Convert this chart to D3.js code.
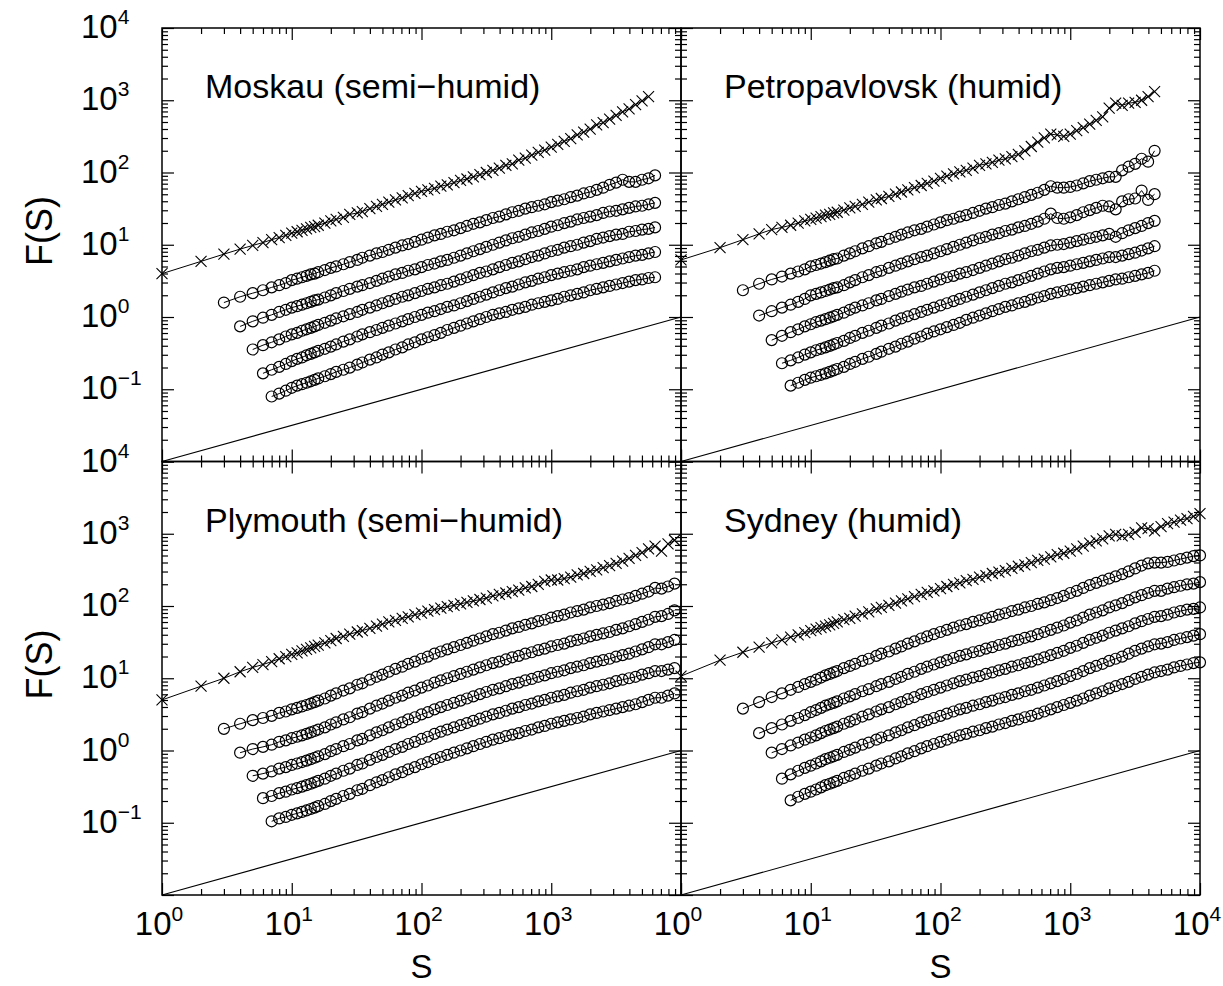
<!DOCTYPE html>
<html>
<head>
<meta charset="utf-8">
<script src="https://cdn.jsdelivr.net/npm/d3@7/dist/d3.min.js"></script>
<style>
  body { margin: 0; background: #fff; }
  text { font-family: 'Liberation Sans', Arial, Helvetica, sans-serif; fill: #000; }
</style>
</head>
<body>
<svg id="chart" width="1223" height="986"></svg>
<script>
// window sizes S shared by every series (a series starts at SERIES_START[i] in this list)
const S_GRID = [1,2,3,4,5,6,7,8,9,10,11,12,13,14,15,16,18,20,22,25,28,32,35,40,45,50,56,63,71,79,89,
  100,112,126,141,158,178,200,224,251,282,316,355,398,447,501,562,631,708,794,891,
  1000,1122,1259,1413,1585,1778,1995,2239,2512,2818,3162,3548,3981,4467,5012,5623,6310,7079,7943,8913,10000]
// crosses start at S=1, the five circle curves at S=3,4,5,6,7
const SERIES_START = [0, 2, 3, 4, 5, 6]

// log10 F(S)
const moskauCross = [0.60,0.77,0.87,0.94,0.99,1.03,1.07,1.10,1.13,1.16,1.18,1.20,1.22,1.24,1.25,1.27,1.30,1.33,1.35,1.38,
  1.42,1.44,1.46,1.50,1.53,1.56,1.59,1.62,1.65,1.68,1.71,1.74,1.76,1.78,1.81,1.83,1.86,1.89,1.91,1.94,
  1.97,2.00,2.03,2.06,2.10,2.12,2.17,2.20,2.24,2.28,2.31,2.35,2.39,2.43,2.47,2.52,2.56,2.60,2.66,2.69,
  2.74,2.79,2.84,2.88,2.94,2.99,3.05]
const moskauC1 = [0.20,0.28,0.33,0.37,0.41,0.44,0.47,0.51,0.53,0.55,0.57,0.59,0.60,0.62,0.65,0.68,0.70,0.73,
  0.76,0.79,0.82,0.85,0.88,0.90,0.93,0.96,0.99,1.01,1.04,1.07,1.10,1.13,1.15,1.18,1.20,1.23,1.26,1.29,
  1.31,1.34,1.37,1.39,1.42,1.45,1.47,1.50,1.52,1.54,1.56,1.59,1.61,1.63,1.66,1.68,1.71,1.73,1.76,1.79,
  1.83,1.86,1.90,1.87,1.87,1.90,1.92,1.96]
const moskauC2 = [-0.13,-0.06,-0.01,0.03,0.07,0.10,0.13,0.15,0.17,0.19,0.21,0.23,0.24,0.27,0.30,0.33,0.36,
  0.39,0.42,0.44,0.47,0.50,0.53,0.56,0.59,0.61,0.64,0.66,0.69,0.72,0.74,0.77,0.79,0.82,0.85,0.88,0.91,
  0.94,0.97,1.00,1.03,1.06,1.09,1.11,1.14,1.17,1.19,1.22,1.25,1.27,1.30,1.32,1.35,1.37,1.39,1.41,1.44,
  1.46,1.47,1.49,1.51,1.53,1.54,1.56,1.58]
const moskauC3 = [-0.45,-0.39,-0.35,-0.31,-0.27,-0.24,-0.22,-0.19,-0.17,-0.15,-0.13,-0.11,-0.08,-0.05,-0.02,0.01,
  0.04,0.07,0.10,0.13,0.16,0.19,0.22,0.25,0.28,0.30,0.33,0.36,0.39,0.41,0.44,0.46,0.49,0.52,0.55,0.58,
  0.61,0.63,0.66,0.69,0.72,0.75,0.77,0.80,0.83,0.85,0.88,0.91,0.93,0.96,0.98,1.00,1.03,1.05,1.08,1.10,
  1.12,1.14,1.15,1.18,1.19,1.21,1.22,1.24]
const moskauC4 = [-0.78,-0.73,-0.69,-0.65,-0.61,-0.58,-0.56,-0.53,-0.51,-0.49,-0.47,-0.44,-0.41,-0.38,-0.34,
  -0.31,-0.27,-0.24,-0.21,-0.18,-0.15,-0.12,-0.09,-0.06,-0.03,0.00,0.03,0.06,0.08,0.11,0.14,0.16,0.19,0.22,0.25,
  0.28,0.31,0.34,0.37,0.40,0.42,0.45,0.48,0.50,0.53,0.55,0.58,0.60,0.62,0.64,0.66,0.69,0.71,0.73,0.75,
  0.77,0.79,0.81,0.83,0.85,0.86,0.88,0.90]
const moskauC5 = [-1.10,-1.06,-1.02,-0.98,-0.95,-0.93,-0.91,-0.89,-0.87,-0.85,-0.82,-0.79,-0.76,-0.73,
  -0.70,-0.66,-0.63,-0.59,-0.56,-0.52,-0.49,-0.45,-0.42,-0.38,-0.35,-0.31,-0.28,-0.25,-0.22,-0.18,-0.15,-0.12,-0.09,-0.06,
  -0.03,0.00,0.03,0.05,0.07,0.10,0.12,0.14,0.17,0.19,0.21,0.23,0.25,0.28,0.30,0.32,0.34,0.37,0.39,0.41,
  0.43,0.45,0.47,0.49,0.51,0.52,0.54,0.55]

const petroCross = [0.79,0.96,1.07,1.15,1.21,1.24,1.27,1.30,1.33,1.35,1.37,1.39,1.41,1.42,1.44,1.45,1.48,1.51,1.53,1.56,
  1.59,1.62,1.64,1.67,1.70,1.73,1.76,1.79,1.82,1.85,1.88,1.92,1.95,1.98,2.01,2.03,2.06,2.10,2.12,2.14,
  2.17,2.19,2.22,2.25,2.30,2.36,2.42,2.48,2.53,2.52,2.50,2.53,2.58,2.62,2.67,2.72,2.77,2.89,2.96,2.93,
  2.96,2.97,3.00,3.05,3.12]
const petroC1 = [0.37,0.46,0.52,0.56,0.60,0.63,0.66,0.70,0.72,0.74,0.76,0.78,0.80,0.81,0.85,0.88,0.91,0.95,
  0.98,1.02,1.04,1.08,1.11,1.14,1.17,1.20,1.22,1.25,1.28,1.31,1.34,1.36,1.39,1.41,1.44,1.47,1.50,1.52,
  1.55,1.57,1.60,1.63,1.66,1.69,1.72,1.76,1.81,1.79,1.79,1.80,1.82,1.85,1.88,1.90,1.92,1.94,1.94,2.03,
  2.08,2.12,2.19,2.15,2.30]
const petroC2 = [0.02,0.08,0.13,0.17,0.21,0.25,0.30,0.32,0.34,0.36,0.38,0.40,0.41,0.44,0.48,0.51,0.55,
  0.58,0.62,0.64,0.68,0.71,0.74,0.77,0.80,0.83,0.85,0.88,0.91,0.94,0.97,1.00,1.03,1.06,1.09,1.11,1.14,
  1.16,1.19,1.21,1.24,1.26,1.29,1.32,1.36,1.43,1.37,1.36,1.38,1.41,1.45,1.48,1.51,1.54,1.53,1.49,1.60,
  1.63,1.64,1.75,1.62,1.70]
const petroC3 = [-0.32,-0.26,-0.21,-0.17,-0.13,-0.10,-0.07,-0.05,-0.03,-0.01,0.01,0.03,0.06,0.10,0.13,0.16,
  0.19,0.23,0.25,0.29,0.32,0.35,0.38,0.41,0.43,0.46,0.49,0.52,0.55,0.57,0.60,0.62,0.65,0.68,0.71,0.74,
  0.77,0.80,0.82,0.85,0.88,0.91,0.93,0.96,0.99,1.00,1.01,1.03,1.05,1.07,1.09,1.11,1.13,1.15,1.11,1.16,
  1.20,1.23,1.26,1.30,1.33]
const petroC4 = [-0.64,-0.60,-0.56,-0.52,-0.49,-0.46,-0.44,-0.42,-0.40,-0.38,-0.36,-0.33,-0.29,-0.26,-0.22,
  -0.19,-0.15,-0.12,-0.09,-0.05,-0.02,0.01,0.04,0.07,0.10,0.13,0.16,0.19,0.22,0.25,0.28,0.31,0.34,0.37,0.40,
  0.43,0.46,0.48,0.51,0.54,0.57,0.60,0.63,0.66,0.68,0.69,0.71,0.73,0.75,0.77,0.79,0.81,0.83,0.83,0.85,
  0.87,0.89,0.92,0.95,0.98]
const petroC5 = [-0.95,-0.91,-0.87,-0.84,-0.82,-0.80,-0.78,-0.76,-0.74,-0.72,-0.69,-0.65,-0.62,-0.58,
  -0.55,-0.51,-0.48,-0.44,-0.41,-0.37,-0.34,-0.30,-0.27,-0.23,-0.20,-0.17,-0.14,-0.11,-0.08,-0.04,-0.01,0.02,0.05,0.08,
  0.11,0.14,0.16,0.19,0.21,0.24,0.27,0.29,0.32,0.34,0.36,0.38,0.40,0.42,0.44,0.46,0.48,0.50,0.52,0.53,
  0.55,0.57,0.59,0.61,0.64]

const plyCross = [0.70,0.89,1.00,1.09,1.15,1.19,1.23,1.27,1.30,1.33,1.35,1.38,1.40,1.42,1.44,1.46,1.49,1.52,1.55,1.58,
  1.61,1.64,1.66,1.69,1.72,1.75,1.78,1.80,1.83,1.85,1.88,1.90,1.93,1.95,1.97,1.99,2.01,2.03,2.05,2.07,
  2.09,2.11,2.14,2.16,2.18,2.20,2.22,2.25,2.27,2.30,2.34,2.36,2.36,2.38,2.40,2.43,2.45,2.48,2.50,2.53,
  2.56,2.59,2.62,2.66,2.70,2.74,2.79,2.83,2.76,2.86,2.91]
const plyC1 = [0.30,0.37,0.42,0.45,0.48,0.52,0.54,0.57,0.59,0.61,0.63,0.65,0.67,0.69,0.72,0.76,0.79,0.83,
  0.86,0.91,0.93,0.98,1.02,1.05,1.09,1.13,1.16,1.20,1.23,1.27,1.30,1.34,1.37,1.40,1.43,1.46,1.49,1.52,
  1.55,1.58,1.61,1.63,1.66,1.69,1.71,1.74,1.76,1.79,1.81,1.84,1.86,1.88,1.91,1.93,1.95,1.98,2.00,2.02,
  2.04,2.07,2.09,2.11,2.14,2.17,2.20,2.25,2.24,2.27,2.31]
const plyC2 = [-0.03,0.02,0.05,0.08,0.12,0.14,0.17,0.19,0.21,0.23,0.25,0.27,0.29,0.32,0.36,0.39,0.43,
  0.46,0.51,0.53,0.58,0.62,0.65,0.69,0.73,0.76,0.80,0.83,0.87,0.90,0.94,0.97,1.00,1.03,1.06,1.09,1.12,
  1.15,1.18,1.21,1.23,1.26,1.29,1.31,1.34,1.36,1.39,1.41,1.44,1.46,1.48,1.51,1.53,1.55,1.58,1.60,1.62,
  1.64,1.67,1.69,1.72,1.75,1.78,1.81,1.85,1.86,1.89,1.94]
const plyC3 = [-0.35,-0.32,-0.29,-0.25,-0.23,-0.20,-0.18,-0.16,-0.14,-0.12,-0.10,-0.08,-0.05,-0.01,0.02,0.06,
  0.09,0.14,0.16,0.21,0.25,0.28,0.32,0.36,0.39,0.43,0.46,0.50,0.53,0.57,0.60,0.63,0.66,0.69,0.72,0.75,
  0.78,0.81,0.84,0.86,0.89,0.92,0.94,0.97,0.99,1.02,1.04,1.07,1.09,1.11,1.14,1.16,1.18,1.21,1.23,1.25,
  1.27,1.30,1.32,1.34,1.37,1.40,1.43,1.47,1.47,1.50,1.53]
const plyC4 = [-0.66,-0.63,-0.59,-0.57,-0.54,-0.52,-0.50,-0.48,-0.46,-0.44,-0.42,-0.39,-0.35,-0.32,-0.28,
  -0.25,-0.20,-0.18,-0.13,-0.09,-0.06,-0.02,0.02,0.05,0.09,0.12,0.16,0.19,0.23,0.26,0.29,0.32,0.35,0.38,0.41,
  0.44,0.47,0.50,0.52,0.55,0.58,0.60,0.63,0.65,0.68,0.70,0.73,0.75,0.77,0.80,0.82,0.84,0.87,0.89,0.91,
  0.93,0.96,0.98,1.00,1.02,1.05,1.07,1.10,1.10,1.12,1.14]
const plyC5 = [-0.98,-0.94,-0.92,-0.89,-0.87,-0.85,-0.83,-0.81,-0.79,-0.77,-0.74,-0.70,-0.67,-0.63,
  -0.60,-0.55,-0.53,-0.48,-0.44,-0.41,-0.37,-0.33,-0.30,-0.26,-0.23,-0.19,-0.16,-0.12,-0.09,-0.06,-0.03,0.00,0.03,0.06,
  0.09,0.12,0.15,0.17,0.20,0.22,0.24,0.27,0.29,0.32,0.34,0.37,0.39,0.41,0.43,0.45,0.47,0.50,0.52,0.54,
  0.56,0.58,0.60,0.62,0.64,0.67,0.70,0.73,0.73,0.76,0.79]

const sydCross = [1.03,1.25,1.36,1.43,1.49,1.53,1.57,1.60,1.63,1.66,1.68,1.70,1.72,1.74,1.76,1.78,1.81,1.83,1.86,1.89,
  1.92,1.96,1.98,2.01,2.04,2.07,2.10,2.13,2.16,2.19,2.21,2.24,2.27,2.30,2.32,2.35,2.37,2.40,2.42,2.45,
  2.47,2.49,2.52,2.55,2.57,2.60,2.63,2.65,2.68,2.71,2.73,2.76,2.79,2.83,2.87,2.90,2.93,2.97,2.99,2.97,
  2.99,3.02,3.08,3.07,3.04,3.10,3.14,3.16,3.19,3.21,3.24,3.28]
const sydC1 = [0.58,0.67,0.74,0.79,0.84,0.88,0.92,0.95,0.98,1.01,1.04,1.06,1.08,1.10,1.14,1.17,1.20,1.24,
  1.27,1.31,1.34,1.37,1.41,1.44,1.48,1.51,1.55,1.58,1.61,1.64,1.67,1.70,1.73,1.75,1.78,1.80,1.83,1.85,
  1.88,1.90,1.93,1.95,1.98,2.00,2.03,2.05,2.08,2.11,2.14,2.18,2.21,2.25,2.29,2.32,2.35,2.38,2.41,2.44,
  2.48,2.52,2.56,2.59,2.60,2.60,2.61,2.63,2.65,2.67,2.69,2.70]
const sydC2 = [0.24,0.31,0.36,0.41,0.45,0.49,0.53,0.56,0.59,0.62,0.64,0.66,0.68,0.72,0.75,0.78,0.82,
  0.85,0.89,0.92,0.95,0.99,1.02,1.06,1.09,1.13,1.16,1.19,1.22,1.25,1.28,1.31,1.33,1.36,1.38,1.41,1.43,
  1.46,1.48,1.51,1.53,1.56,1.58,1.61,1.64,1.67,1.70,1.73,1.77,1.80,1.84,1.88,1.91,1.94,1.98,2.01,2.04,
  2.08,2.12,2.15,2.18,2.21,2.21,2.24,2.26,2.28,2.30,2.31,2.33]
const sydC3 = [-0.03,0.02,0.07,0.11,0.15,0.18,0.21,0.24,0.27,0.29,0.31,0.33,0.37,0.40,0.43,0.47,
  0.50,0.54,0.57,0.60,0.64,0.67,0.71,0.74,0.78,0.81,0.84,0.87,0.90,0.93,0.96,0.98,1.01,1.03,1.06,1.08,
  1.11,1.13,1.16,1.18,1.21,1.23,1.26,1.29,1.32,1.35,1.38,1.42,1.45,1.49,1.53,1.56,1.59,1.63,1.66,1.69,
  1.72,1.76,1.79,1.82,1.85,1.86,1.88,1.91,1.93,1.95,1.96,1.98]
const sydC4 = [-0.39,-0.33,-0.28,-0.24,-0.21,-0.18,-0.15,-0.12,-0.10,-0.08,-0.06,-0.02,0.01,0.04,0.08,
  0.11,0.15,0.18,0.21,0.25,0.28,0.32,0.35,0.39,0.42,0.45,0.48,0.51,0.54,0.57,0.59,0.62,0.64,0.67,0.69,
  0.72,0.74,0.77,0.79,0.82,0.84,0.87,0.90,0.93,0.96,0.99,1.03,1.06,1.10,1.14,1.17,1.20,1.24,1.27,1.30,
  1.34,1.38,1.41,1.44,1.47,1.48,1.50,1.53,1.55,1.57,1.59,1.61]
const sydC5 = [-0.69,-0.64,-0.60,-0.57,-0.54,-0.51,-0.48,-0.46,-0.44,-0.42,-0.38,-0.35,-0.32,-0.28,
  -0.25,-0.21,-0.18,-0.15,-0.11,-0.08,-0.04,-0.01,0.03,0.06,0.09,0.12,0.15,0.18,0.21,0.23,0.26,0.28,0.31,0.33,
  0.36,0.38,0.41,0.43,0.46,0.48,0.51,0.54,0.57,0.60,0.63,0.66,0.69,0.72,0.76,0.79,0.82,0.86,0.89,0.92,
  0.95,0.99,1.02,1.05,1.08,1.10,1.12,1.15,1.17,1.19,1.21,1.22]

// reference line of slope 1/2
const REF_S = [1, 10000]
const REF_F = [0.01, 1]

const X_MAJOR = [1, 10, 100, 1000, 10000]
const Y_MAJOR = [0.01, 0.1, 1, 10, 100, 1000, 10000]
const MINOR_MULT = [2, 3, 4, 5, 6, 7, 8, 9]
const Y_LABEL_EXP = [4, 3, 2, 1, 0, -1]

const panels = [
  { title: 'Moskau (semi\u2212humid)', col: 0, row: 0, series: [moskauCross, moskauC1, moskauC2, moskauC3, moskauC4, moskauC5] },
  { title: 'Petropavlovsk (humid)', col: 1, row: 0, series: [petroCross, petroC1, petroC2, petroC3, petroC4, petroC5] },
  { title: 'Plymouth (semi\u2212humid)', col: 0, row: 1, series: [plyCross, plyC1, plyC2, plyC3, plyC4, plyC5] },
  { title: 'Sydney (humid)', col: 1, row: 1, series: [sydCross, sydC1, sydC2, sydC3, sydC4, sydC5] },
]

const svg = d3.select('#chart')
const PW = 519, PH = 433.5
const colX = [162, 681], rowY = [28, 461.5]

const minorsOf = majors => majors.slice(0, -1).flatMap(m => MINOR_MULT.map(k => m * k))

function superLabel(sel, base, exp) {
  sel.append('tspan').text(base)
  sel.append('tspan').attr('dy', -14).attr('font-size', 21).text(exp)
}

panels.forEach(p => {
  const x0 = colX[p.col], y0 = rowY[p.row]
  const x = d3.scaleLog().domain([1, 1e4]).range([x0, x0 + PW])
  const y = d3.scaleLog().domain([1e-2, 1e4]).range([y0 + PH, y0])
  const g = svg.append('g')

  // inward ticks on all four sides
  const tickAxis = (axisFn, scale, vals, size, tr) => {
    g.append('g').attr('transform', tr)
      .call(axisFn(scale).tickValues(vals).tickSize(-size).tickFormat(''))
      .call(a => a.select('.domain').remove())
      .selectAll('line').attr('stroke', '#000').attr('stroke-width', 1.2)
  }
  ;[[X_MAJOR, 12], [minorsOf(X_MAJOR), 6]].forEach(([vals, sz]) => {
    tickAxis(d3.axisBottom, x, vals, sz, `translate(0,${y0 + PH})`)
    tickAxis(d3.axisTop, x, vals, sz, `translate(0,${y0})`)
  })
  ;[[Y_MAJOR, 12], [minorsOf(Y_MAJOR), 6]].forEach(([vals, sz]) => {
    tickAxis(d3.axisLeft, y, vals, sz, `translate(${x0},0)`)
    tickAxis(d3.axisRight, y, vals, sz, `translate(${x0 + PW},0)`)
  })

  g.append('rect')
    .attr('x', x0).attr('y', y0).attr('width', PW).attr('height', PH)
    .attr('fill', 'none').attr('stroke', '#000').attr('stroke-width', 1.5)

  // reference line
  g.append('path')
    .datum(REF_S.map((s, i) => ({ s, f: REF_F[i] })))
    .attr('d', d3.line().x(d => x(d.s)).y(d => y(d.f)))
    .attr('fill', 'none').attr('stroke', '#000').attr('stroke-width', 1.1)

  const line = d3.line().x(d => x(d.s)).y(d => y(d.f))
  p.series.forEach((vals, i) => {
    const pts = vals.map((v, j) => ({ s: S_GRID[SERIES_START[i] + j], f: Math.pow(10, v) }))
    g.append('path').datum(pts).attr('d', line)
      .attr('fill', 'none').attr('stroke', '#000').attr('stroke-width', 1)
    if (i === 0) {
      g.append('g').selectAll('path').data(pts).join('path')
        .attr('transform', d => `translate(${x(d.s)},${y(d.f)})`)
        .attr('d', 'M-5.5,-5.5L5.5,5.5M-5.5,5.5L5.5,-5.5')
        .attr('stroke', '#000').attr('stroke-width', 1.1).attr('fill', 'none')
    } else {
      g.append('g').selectAll('circle').data(pts).join('circle')
        .attr('cx', d => x(d.s)).attr('cy', d => y(d.f)).attr('r', 5.5)
        .attr('fill', 'none').attr('stroke', '#000').attr('stroke-width', 1.2)
    }
  })

  // panel title
  g.append('text').attr('x', x0 + 43).attr('y', y0 + 70)
    .attr('font-size', 34).text(p.title)

  // y tick labels on the left column
  if (p.col === 0) {
    Y_LABEL_EXP.forEach(e => {
      const t = g.append('text').attr('x', 81).attr('y', y(Math.pow(10, e)) + 10).attr('font-size', 33)
      superLabel(t, '10', e < 0 ? '\u2212' + (-e) : String(e))
    })
    g.append('text')
      .attr('transform', `translate(52,${y0 + 203}) rotate(-90)`)
      .attr('text-anchor', 'middle').attr('font-size', 36).text('F(S)')
  }
  // x tick labels on the bottom row
  if (p.row === 1) {
    const exps = p.col === 0 ? [0, 1, 2, 3] : [0, 1, 2, 3, 4]
    exps.forEach(e => {
      const t = g.append('text').attr('x', x(Math.pow(10, e)) - 3).attr('y', 935)
        .attr('text-anchor', 'middle').attr('font-size', 33)
      superLabel(t, '10', String(e))
    })
    g.append('text').attr('x', x0 + PW / 2).attr('y', 978)
      .attr('text-anchor', 'middle').attr('font-size', 33).text('S')
  }
})
</script>
</body>
</html>
